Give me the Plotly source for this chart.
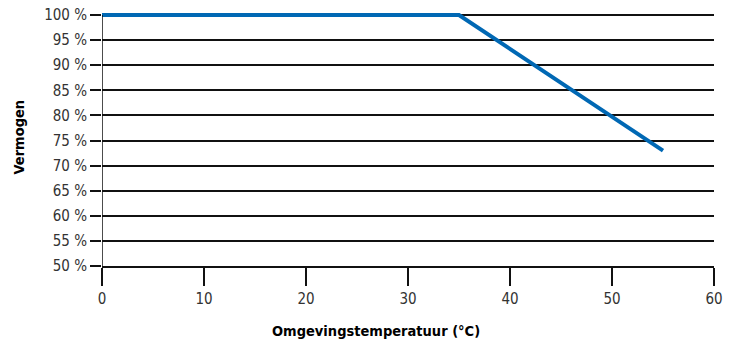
import plotly.graph_objects as go

temperature = [0, 35, 55]
power = [100, 100, 73]
x_ticks = [0, 10, 20, 30, 40, 50, 60]
y_ticks = [50, 55, 60, 65, 70, 75, 80, 85, 90, 95, 100]

FONT = "DejaVu Sans Condensed, Liberation Sans Narrow, sans-serif"

fig = go.Figure()
fig.add_trace(go.Scatter(
    x=temperature, y=power, mode="lines",
    line=dict(color="#0068b4", width=4),
    hoverinfo="skip", showlegend=False,
))

# y-axis line drawn only from 50 % to 100 %
fig.add_shape(type="line", xref="x", yref="y", x0=0, x1=0, y0=50, y1=100,
              line=dict(color="#111111", width=1.5), layer="above")

fig.add_annotation(text="<b>Omgevingstemperatuur (°C)</b>", xref="paper", yref="paper",
                   x=0.4477, y=-0.254, xanchor="center", yanchor="middle",
                   showarrow=False, font=dict(size=14.5, family=FONT, color="#000"))
fig.add_annotation(text="<b>Vermogen</b>", xref="paper", yref="paper",
                   x=-0.1364, y=0.504, xanchor="center", yanchor="middle", textangle=-90,
                   showarrow=False, font=dict(size=14.5, family=FONT, color="#000"))

fig.update_layout(
    width=740, height=345,
    margin=dict(l=102, r=26, t=10, b=79, autoexpand=False),
    paper_bgcolor="white", plot_bgcolor="white",
    font=dict(family=FONT, size=15, color="#333333"),
)
fig.update_xaxes(
    range=[0, 60], tickvals=x_ticks, ticktext=[str(v) for v in x_ticks],
    showgrid=False, zeroline=False, automargin=False,
    showline=True, linecolor="#111111", linewidth=1.5,
    ticks="outside", ticklen=18, tickwidth=1.5, tickcolor="#111111",
    tickfont=dict(size=15, family=FONT, color="#333333"),
)
fig.update_yaxes(
    range=[50, 101], tickvals=y_ticks, ticktext=[f"{v} %" for v in y_ticks],
    showgrid=True, gridcolor="#111111", gridwidth=1.5, zeroline=False,
    automargin=False, showline=False, ticklabeloverflow="allow",
    ticks="outside", ticklen=11, tickwidth=1.5, tickcolor="#111111",
    tickfont=dict(size=15, family=FONT, color="#333333"),
)

fig.write_html("out.html", config={"displayModeBar": False},
               post_script="document.body.style.margin='0';")
